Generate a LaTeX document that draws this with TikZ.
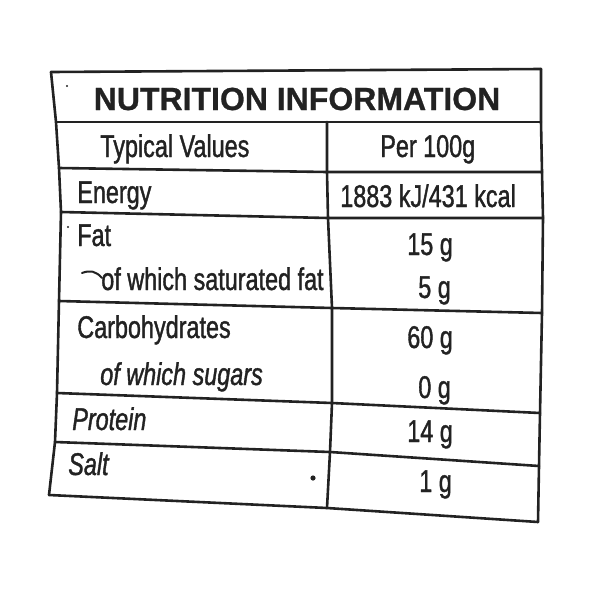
\documentclass[tikz,border=0pt]{standalone}
\usepackage{fontspec}
\setmainfont{Liberation Sans}[FakeStretch=0.745,FakeBold=1.2]
\newfontfamily\titlefont{Liberation Sans}[BoldFont={Liberation Sans Bold},BoldFeatures={FakeBold=0.8}]
\definecolor{ink}{HTML}{222222}

\begin{document}
\begin{tikzpicture}[x=0.5pt,y=-0.5pt,line width=1.3pt,line join=round,line cap=round]
        \tikzstyle{cell}=[inner sep=0pt,anchor=base west,text=ink,font=\fontsize{15.7}{17}\selectfont]
        \tikzstyle{rule}=[draw=ink]

        \useasboundingbox (0,0) rectangle (600,600);

        % corners of the rows: left edge, column line, right edge
        \coordinate (L0) at (51,72);   \coordinate (R0) at (541,69);
        \coordinate (L1) at (56,122);  \coordinate (M1) at (327,122); \coordinate (R1) at (541,122);
        \coordinate (L2) at (59,168);  \coordinate (M2) at (327,172); \coordinate (R2) at (542,172);
        \coordinate (L3) at (61,212);  \coordinate (M3) at (328,218); \coordinate (R3) at (543,218);
        \coordinate (L4) at (59,301);  \coordinate (M4) at (332,308); \coordinate (R4) at (542,313);
        \coordinate (L5) at (57,393);  \coordinate (M5) at (332,403); \coordinate (R5) at (540,413);
        \coordinate (L6) at (55,442);  \coordinate (M6) at (330,452); \coordinate (R6) at (539,466);
        \coordinate (L7) at (49,495);  \coordinate (M7) at (327,508); \coordinate (R7) at (538,522);

        % frame
        \draw[rule] (L0) -- (L1) -- (L2) -- (L3) -- (L4) -- (L5) -- (L6) -- (L7);
        \draw[rule] (R0) -- (R1) -- (R2) -- (R3) -- (R4) -- (R5) -- (R6) -- (R7);
        \draw[rule] (L0) -- (R0);
        \draw[rule] (L1) -- (R1);
        \foreach \i in {2,...,7}
            \draw[rule] (L\i) -- (M\i) -- (R\i);
        \draw[rule] (M1) -- (M2) -- (M3) -- (M4) -- (M5) -- (M6) -- (M7);

        \node[cell,anchor=base,font=\titlefont\bfseries\fontsize{16}{18}\selectfont] (title) at (297,110) {NUTRITION INFORMATION};

        \node[cell] (typical) at (99,157)  {Typical Values};
        \node[cell] (per)     at (379,157) {Per 100g};
        \node[cell] (energy)  at (76,203)  {Energy};
        \node[cell] (kcal)    at (339,207) {1883 kJ/431 kcal};
        \node[cell] (fat)     at (76,246)  {Fat};
        \node[cell] (fatg)    at (406,255) {15 g};
        \node[cell] (sat)     at (100,290) {of which saturated fat};
        \node[cell] (satg)    at (417,298) {5 g};
        \node[cell] (carb)    at (76,338)  {Carbohydrates};
        \node[cell] (carbg)   at (406,348) {60 g};
        \node[cell] (sugar)   at (99,385)  {\itshape of which sugars};
        \node[cell] (sugarg)  at (417,398) {0 g};
        \node[cell] (prot)    at (71,430)  {\itshape Protein};
        \node[cell] (protg)   at (406,442) {14 g};
        \node[cell] (salt)    at (67,475)  {\itshape Salt};
        \node[cell] (saltg)   at (418,492) {1 g};

        % pen marks
        \fill[ink] (67,86) circle (1.2);
        \fill[ink] (68,227) circle (1.2);
        \fill[ink] (313,478) circle (2.6);
        \draw[ink,line width=1pt] (82,273) .. controls (90,270) and (96,271) .. (102,278);
    \end{tikzpicture}
\end{document}
